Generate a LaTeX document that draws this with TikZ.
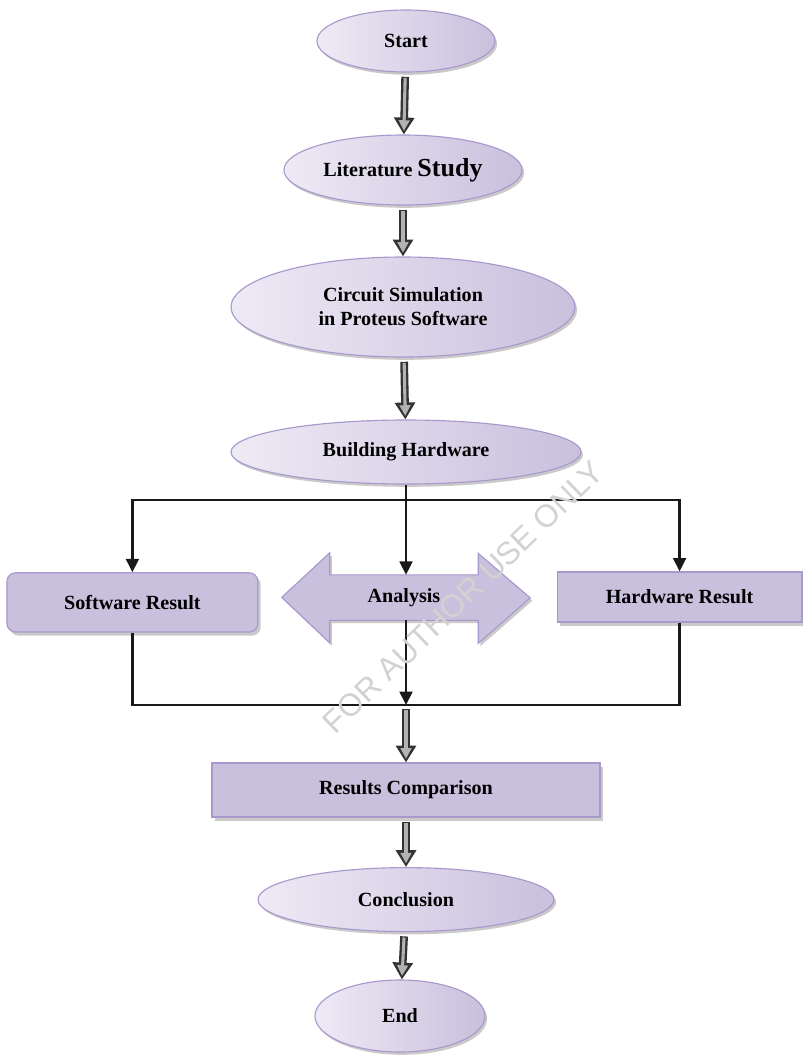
\documentclass[tikz,border=0pt]{standalone}
\usepackage{fontspec}
\setmainfont{Liberation Serif}
\newfontfamily\wmfont{Liberation Sans}
\usepackage{xcolor}
\usepackage{tikz}
\usetikzlibrary{shapes.geometric, arrows.meta, positioning, shadows}
\definecolor{lav}{RGB}{201,192,221}
\definecolor{lavlight}{RGB}{238,234,245}
\definecolor{lavdark}{RGB}{168,152,204}
\definecolor{shadowgray}{RGB}{150,150,150}
\tikzset{
    stage/.style={ellipse, draw=lavdark, thick, left color=lavlight, right color=lav, text centered, align=center, font=\fontsize{14.3}{17}\selectfont\bfseries, drop shadow={shadow xshift=1.5pt, shadow yshift=-2pt, fill=shadowgray}},
    result/.style={rectangle, draw=lavdark, thick, fill=lav, text centered, align=center, font=\fontsize{14.3}{17}\selectfont\bfseries, drop shadow={shadow xshift=2pt, shadow yshift=-2.5pt, fill=shadowgray}},
    flow/.style={-{Triangle[length=9.5pt,width=9pt]}, line width=2pt, draw=black!90},
    link/.style={line width=2pt, draw=black!90},
    bigflow/.style={line width=5.5pt, draw=black!80, shorten <=3pt, -{Triangle[length=12pt,width=14pt]}, postaction={draw=gray!60, line width=2.2pt, shorten <=3.8pt, shorten >=2.6pt, -{Triangle[length=7.5pt,width=7.5pt]}}}
}

\begin{document}
\begin{tikzpicture}
    \useasboundingbox (0,0) rectangle (20.075,-26.4);

    % Main stages
    \node[stage, minimum width=4.45cm, minimum height=1.55cm] (start) at (10.15,-1.025) {Start};
    \node[stage, minimum width=5.1cm, minimum height=1.75cm] (lit) at (10.075,-4.25) {Literature {\fontsize{18.5}{20}\selectfont Study}};
    \node[stage, minimum width=8.6cm, minimum height=2.5cm] (sim) at (10.075,-7.675) {Circuit Simulation\\ in Proteus Software};
    \node[stage, minimum width=8.75cm, minimum height=1.6cm] (build) at (10.15,-11.3) {Building Hardware};

    % Results
    \node[result, rounded corners=6pt, minimum width=6.27cm, minimum height=1.48cm] (swres) at (3.31,-15.06) {Software Result};
    \node[result, minimum width=6.12cm, minimum height=1.25cm] (hwres) at (16.99,-14.925) {Hardware Result};

    % Analysis double arrow (shaft node plus heads)
    \node[rectangle, minimum width=3.7cm, minimum height=1.125cm, inner sep=0pt] (analysis) at (10.1,-14.94) {};
    \draw[draw=lavdark, thick, fill=lav, drop shadow={shadow xshift=1.5pt, shadow yshift=-2pt, fill=shadowgray}]
        (analysis.north west) -- ++(0,0.55) -- ++(-1.2,-1.1125) -- ++(1.2,-1.1375) -- (analysis.south west)
        -- (analysis.south east) -- ++(0,-0.575) -- ++(1.3,1.1375) -- ++(-1.3,1.1125) -- (analysis.north east) -- cycle;
    \node[font=\fontsize{14.3}{17}\selectfont\bfseries] (analysistext) at (analysis) {Analysis};

    % Comparison and end
    \node[result, minimum width=9.7cm, minimum height=1.35cm] (comp) at (10.15,-19.75) {Results Comparison};
    \node[stage, minimum width=7.4cm, minimum height=1.6cm] (concl) at (10.15,-22.49) {Conclusion};
    \node[stage, minimum width=4.25cm, minimum height=1.8cm] (finish) at (10.0,-25.4) {End};

    % Junctions
    \coordinate (split) at (10.15,-12.5);
    \coordinate (merge) at (10.15,-17.625);

    % Stage arrows
    \draw[bigflow] (start) -- (lit);
    \draw[bigflow] (lit) -- (sim);
    \draw[bigflow] (sim) -- (build);

    % Split
    \draw[link] (build) -- (split);
    \draw[flow] (split) -| (swres.north);
    \draw[flow] (split) -| (hwres.north);
    \draw[flow] (split) -- (split |- analysis.north);

    % Merge
    \draw[link] (swres.south) |- (merge);
    \draw[link] (hwres.south) |- (merge);
    \draw[flow] (split |- analysis.south) -- (merge);

    % Final arrows
    \draw[bigflow] (merge) -- (comp);
    \draw[bigflow] (comp) -- (concl);
    \draw[bigflow] (concl) -- (finish);

    % Watermark
    \node[rotate=44, text=gray!35, font=\wmfont\fontsize{22.5}{24}\selectfont] (wm) at (11.575,-14.925) {FOR AUTHOR USE ONLY};
\end{tikzpicture}
\end{document}
